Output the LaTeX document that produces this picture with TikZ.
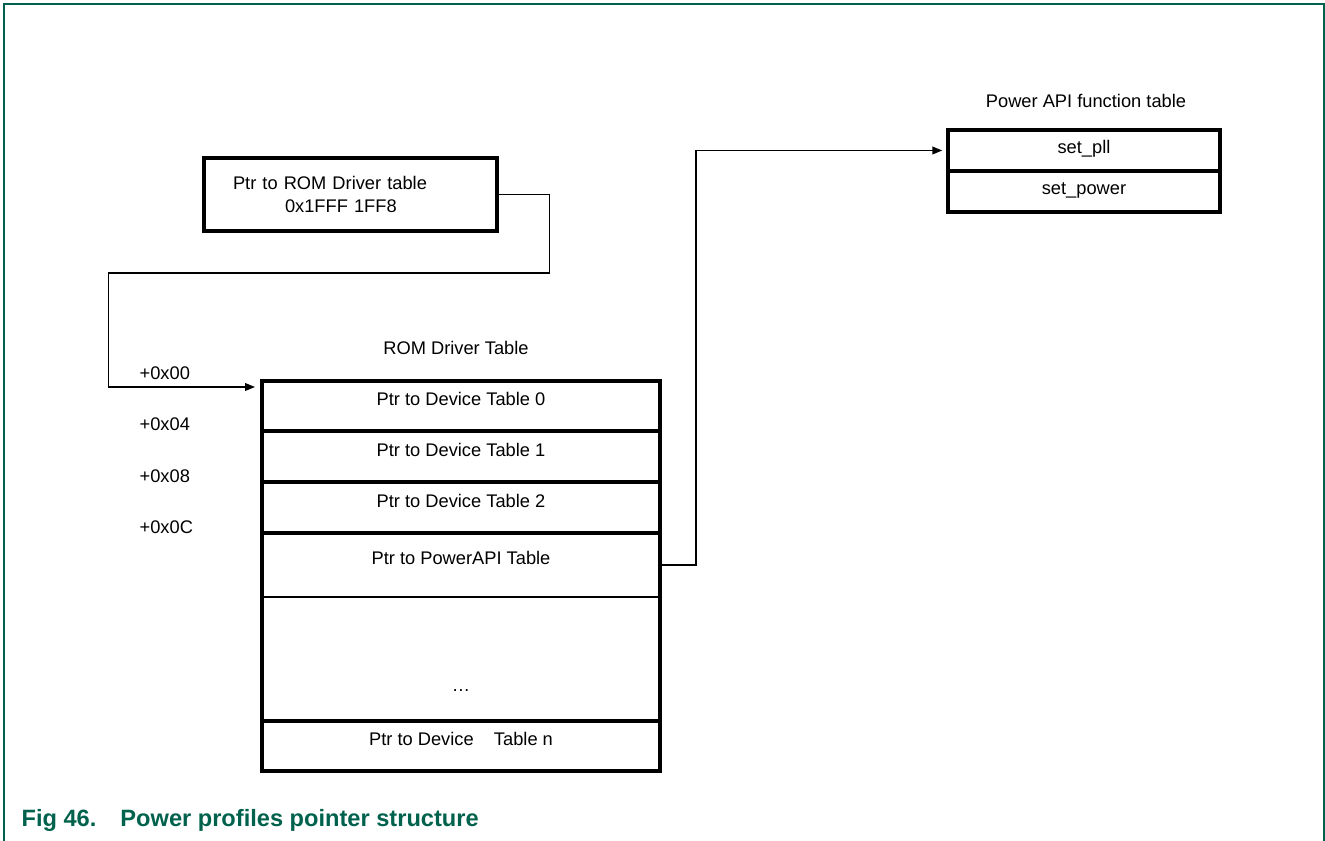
\documentclass[tikz,border=0pt]{standalone}
\usepackage{fontspec}
\setmainfont{Liberation Sans}
\usetikzlibrary{arrows.meta,calc}
\definecolor{capgreen}{RGB}{0,98,76}

\begin{document}
\begin{tikzpicture}[line width=0.9pt, >={Triangle[length=7pt,width=5.5pt]}, font=\fontsize{13}{17}\selectfont,
    ptrbox/.style={draw, line width=2.2pt, minimum width=7.325cm, minimum height=1.825cm, text width=5.875cm, inner xsep=0.725cm, align=left},
    slot/.style={draw, line width=2.2pt, minimum width=9.95cm, text height=0.33cm, text depth=0.35cm, inner sep=0pt, outer sep=0pt},
    thinslot/.style={slot, line width=1pt},
    fn/.style={draw, line width=2.2pt, minimum width=6.8cm, minimum height=1.025cm, text height=0.33cm, text depth=0.2cm, inner sep=0pt},
    lbl/.style={inner sep=0pt}]
  \useasboundingbox (0,0) rectangle (33.125,-21.025);
  % ---------------- page frame ----------------
  \draw[capgreen, line width=1.1pt] (0.1,-21.025) -- (0.1,-0.1) -- (33.1,-0.1) -- (33.1,-21.025);
  % ---------------- pointer in ROM ----------------
  \node[ptrbox] (ptr) at (8.7625,-4.8625) {Ptr to ROM Driver table\\ \hspace*{1.3cm}0x1FFF 1FF8};
  % ---------------- ROM driver table ----------------
  \node[lbl] (romtitle) at (11.4,-8.7) {ROM Driver Table};
  \node[slot, minimum height=1.25cm] (dev0) at (11.525,-10.15) {Ptr to Device Table 0};
  \node[slot, minimum height=1.275cm] (dev1) at (11.525,-11.4125) {Ptr to Device Table 1};
  \node[slot, minimum height=1.275cm] (dev2) at (11.525,-12.6875) {Ptr to Device Table 2};
  \node[thinslot, minimum height=1.6cm] (api) at (11.525,-14.125) {Ptr to PowerAPI Table};
  \node[thinslot, minimum height=3.1cm] (more) at (11.525,-16.475) {};
  \node[slot, minimum height=1.25cm] (devn) at (11.525,-18.65) {Ptr to Device\hspace{0.38cm} Table n};
  \draw[line width=2.2pt] (dev0.north west) rectangle (devn.south east);
  \node[lbl, anchor=base] (dots) at (11.525,-17.275) {…};
  \foreach \off/\y in {00/9.325, 04/10.6, 08/11.9, 0C/13.175}
    \node[lbl, anchor=west] (off\off) at (3.475,-\y) {+0x\off};
  % ---------------- power API function table ----------------
  \node[lbl] (fntitle) at (27.15,-2.525) {Power API function table};
  \node[fn] (pll) at (27.1,-3.7625) {set\_pll};
  \node[fn] (pwr) at (27.1,-4.7875) {set\_power};
  % links
  \draw[->, shorten >=5pt] (ptr.east) -- ++(1.275,0) -- ++(0,-1.9625) -- ++(-11.025,0) |- ($(dev0.north west)+(0,-0.15)$);
  \draw[->, shorten >=3pt] (api.east) -- ++(0.9,0) |- (pll.west);
  % caption
  \node[lbl, anchor=base west, font=\fontsize{16.8}{20}\selectfont\bfseries, text=capgreen] (caption) at (0.525,-20.65)
       {Fig 46.\hspace{0.6cm}Power profiles pointer structure};
\end{tikzpicture}
\end{document}
